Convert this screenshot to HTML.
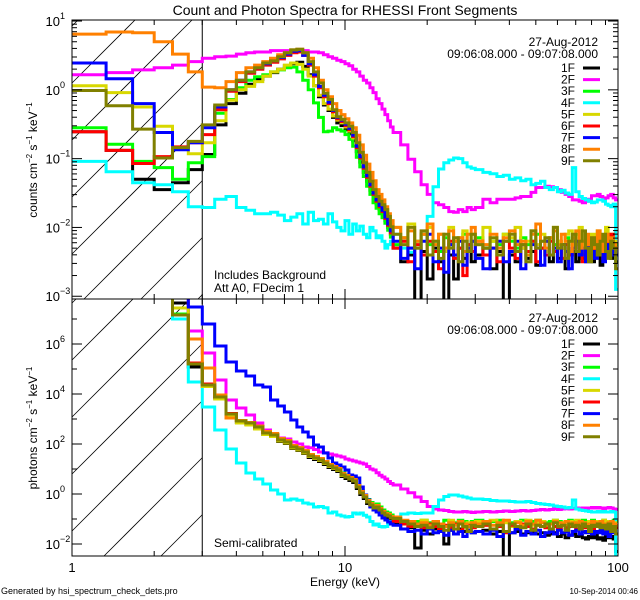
<!DOCTYPE html>
<html><head><meta charset="utf-8">
<style>
html,body{margin:0;padding:0;background:#fff;width:640px;height:600px;overflow:hidden;}
svg{display:block;font-family:"Liberation Sans",sans-serif;overflow:hidden;}
</style></head>
<body>
<svg id="chart" width="640" height="600" viewBox="0 0 640 600" xmlns="http://www.w3.org/2000/svg">
<rect x="0" y="0" width="640" height="600" fill="#fff"/>
<text x="345" y="15" font-size="14" text-anchor="middle">Count and Photon Spectra for RHESSI Front Segments</text>
<text x="345" y="586" font-size="12" text-anchor="middle">Energy (keV)</text>
<text x="1" y="594" font-size="9">Generated by hsi_spectrum_check_dets.pro</text>
<text x="638" y="594" font-size="8" text-anchor="end">10-Sep-2014 00:46</text>
<text transform="translate(37,160) rotate(-90)" font-size="12" text-anchor="middle">counts cm<tspan dy="-5" font-size="8">−2</tspan><tspan dy="5"> s</tspan><tspan dy="-5" font-size="8">−1</tspan><tspan dy="5"> keV</tspan><tspan dy="-5" font-size="8">−1</tspan></text>
<text transform="translate(37,428) rotate(-90)" font-size="12" text-anchor="middle">photons cm<tspan dy="-5" font-size="8">−2</tspan><tspan dy="5"> s</tspan><tspan dy="-5" font-size="8">−1</tspan><tspan dy="5"> keV</tspan><tspan dy="-5" font-size="8">−1</tspan></text>
<text x="214" y="279" font-size="12">Includes Background</text>
<text x="214" y="292" font-size="12">Att A0, FDecim 1</text>
<text x="214" y="547" font-size="12">Semi-calibrated</text>
</svg>
<script>
const seriesNames = ["1F","2F","3F","4F","5F","6F","7F","8F","9F"];
const seriesColors = ["#000000","#ff00ff","#00ff00","#00ffff","#d8d800","#ff0000","#0000ff","#ff8000","#808000"];
const xTickLabels = ["1","10","100"];
const topYTickExps = [-3,-2,-1,0,1];
const botYTickExps = [-2,0,2,4,6];
const legendDate = "27-Aug-2012";
const legendTime = "09:06:08.000 - 09:07:08.000";

// log10 values, 92 energy bins (1/3 keV to 15 keV, 1 keV to 30 keV, 2 keV to 100 keV)
const top1F = [-0.61,-0.88,-1.3,-1.45,-1.35,-1.16,-0.94,-0.51,-0.2,-0.05,0.08,0.15,0.2,0.25,0.3,0.35,0.38,0.4,0.34,0.22,0.06,-0.1,-0.22,-0.3,-0.4,-0.48,-0.52,-0.58,-0.64,-0.74,-0.9,-1.05,-1.2,-1.33,-1.46,-1.58,-1.66,-1.74,-1.8,-1.9,-2.0,-2.1,
 -2.3,-2.5,-2.4,-3.1,-2.35,-2.75,-2.3,-2.5,-3.1,-2.4,-2.75,-2.3,-2.45,-2.3,-2.5,-2.4,-2.3,-2.6,-2.35,-3.1,-2.4,-2.5,-2.3,-2.45,-2.35,-2.55,-2.3,-2.4,-2.5,-2.35,-2.45,-2.3,-2.6,-2.4,-2.35,-2.5,-2.3,-2.45,-2.4,-2.35,-2.5,-2.3,-2.4,-2.55,-2.35,-2.4,-2.3,-2.45,-2.35,-2.5];
const top2F = [0.22,0.25,0.29,0.32,0.36,0.41,0.46,0.48,0.49,0.52,0.54,0.55,0.55,0.57,0.57,0.57,0.57,0.57,0.57,0.55,0.55,0.54,0.51,0.48,0.46,0.43,0.41,0.38,0.35,0.3,0.26,0.2,0.14,0.1,0.03,-0.04,-0.13,-0.2,-0.28,-0.36,-0.45,-0.54,
 -0.62,-0.8,-1.01,-1.19,-1.38,-1.52,-1.64,-1.67,-1.71,-1.77,-1.78,-1.74,-1.77,-1.71,-1.74,-1.71,-1.59,-1.64,-1.59,-1.59,-1.59,-1.57,-1.55,-1.55,-1.49,-1.42,-1.42,-1.4,-1.41,-1.42,-1.45,-1.49,-1.52,-1.55,-1.6,-1.6,-1.62,-1.64,-1.62,-1.59,-1.54,-1.54,-1.52,-1.55,-1.59,-1.57,-1.54,-1.52,-1.57,-1.6];
const top3F = [-0.55,-0.79,-1.04,-1.13,-1.3,-1.06,-0.97,-0.34,-0.14,0.03,0.14,0.19,0.22,0.26,0.29,0.32,0.33,0.26,0.14,0.0,-0.19,-0.4,-0.61,-0.6,-0.55,-0.58,-0.6,-0.65,-0.72,-0.82,-0.98,-1.12,-1.26,-1.4,-1.52,-1.64,-1.72,-1.8,-1.86,-1.94,-2.04,-2.14,
 -2.25,-2.15,-2.3,-2.2,-2.1,-2.25,-2.2,-2.35,-2.15,-2.25,-2.2,-2.3,-2.1,-2.25,-2.2,-2.15,-2.3,-2.2,-2.25,-2.1,-2.2,-2.3,-2.15,-2.25,-2.2,-2.1,-2.3,-2.2,-2.15,-2.25,-2.2,-2.3,-2.15,-2.2,-2.25,-2.1,-2.2,-2.3,-2.2,-2.15,-2.25,-2.2,-2.1,-2.3,-2.2,-2.25,-2.15,-2.2,-2.3,-2.25];
const top4F = [-1.04,-1.19,-1.35,-1.38,-1.48,-1.7,-1.71,-1.59,-1.55,-1.71,-1.75,-1.8,-1.8,-1.78,-1.82,-1.9,-1.85,-1.8,-1.95,-1.78,-1.9,-1.88,-1.95,-1.8,-1.92,-2.0,-2.05,-1.9,-2.1,-1.95,-2.05,-1.98,-2.1,-2.15,-2.0,-2.05,-2.15,-2.12,-2.2,-2.3,-2.25,-2.2,
 -2.1,-2.3,-2.36,-2.3,-2.1,-1.84,-1.41,-1.15,-1.06,-1.02,-0.99,-1.0,-1.06,-1.12,-1.14,-1.16,-1.2,-1.22,-1.26,-1.24,-1.3,-1.28,-1.32,-1.3,-1.38,-1.36,-1.33,-1.42,-1.45,-1.42,-1.48,-1.46,-1.5,-1.52,-1.13,-1.48,-1.55,-1.58,-1.6,-1.62,-1.64,-1.63,-1.6,-1.6,-1.62,-1.66,-1.68,-1.7,-1.66,-2.9];
const top5F = [0.06,-0.04,-0.25,-0.53,-0.84,-0.93,-0.77,-0.45,-0.15,0.0,0.05,0.12,0.2,0.26,0.3,0.36,0.39,0.37,0.3,0.2,0.06,-0.08,-0.2,-0.28,-0.38,-0.44,-0.48,-0.54,-0.6,-0.7,-0.84,-0.98,-1.12,-1.24,-1.36,-1.48,-1.56,-1.62,-1.68,-1.76,-1.86,-1.96,
 -2.0,-2.2,-1.95,-2.3,-2.1,-2.0,-2.25,-2.1,-2.35,-2.0,-2.2,-2.15,-2.05,-2.3,-2.1,-2.25,-2.0,-2.2,-2.4,-2.1,-2.15,-2.0,-2.3,-2.2,-2.05,-2.25,-2.1,-2.35,-2.15,-2.0,-2.2,-2.3,-2.1,-2.05,-2.25,-2.2,-2.0,-2.35,-2.15,-2.2,-2.1,-2.3,-2.05,-2.2,-2.15,-2.0,-2.25,-2.1,-2.2,-2.3];
const top6F = [-0.61,-0.88,-1.07,-0.97,-0.83,-0.77,-0.65,-0.29,-0.02,0.12,0.24,0.3,0.36,0.4,0.45,0.5,0.54,0.55,0.5,0.36,0.2,0.03,-0.1,-0.2,-0.32,-0.42,-0.46,-0.52,-0.58,-0.68,-0.84,-0.99,-1.14,-1.27,-1.4,-1.52,-1.62,-1.7,-1.77,-1.87,-1.97,-2.08,
 -2.3,-2.2,-2.5,-2.25,-2.4,-2.2,-2.35,-2.6,-2.3,-2.2,-2.45,-2.3,-2.7,-2.25,-2.35,-2.2,-2.4,-2.3,-2.5,-2.2,-2.3,-2.45,-2.25,-2.35,-2.2,-2.5,-2.3,-2.4,-2.2,-2.35,-2.3,-2.45,-2.25,-2.4,-2.3,-2.2,-2.35,-2.5,-2.25,-2.3,-2.4,-2.2,-2.35,-2.3,-2.45,-2.2,-2.3,-2.1,-2.35,-2.4];
const top7F = [0.39,0.16,-0.2,-0.62,-0.87,-0.77,-0.55,-0.25,0.0,0.14,0.26,0.32,0.38,0.42,0.47,0.52,0.56,0.57,0.5,0.38,0.22,0.05,-0.08,-0.18,-0.3,-0.4,-0.44,-0.5,-0.56,-0.66,-0.82,-0.97,-1.12,-1.25,-1.38,-1.5,-1.6,-1.68,-1.75,-1.85,-1.95,-2.05,
 -2.2,-2.45,-2.3,-2.6,-2.2,-2.1,-2.5,-2.3,-2.65,-2.25,-2.4,-2.2,-2.55,-2.3,-2.2,-2.45,-2.6,-2.3,-2.2,-2.5,-2.35,-2.2,-2.6,-2.4,-2.25,-2.3,-2.55,-2.2,-2.4,-2.3,-2.5,-2.25,-2.35,-2.6,-2.3,-2.2,-2.4,-2.3,-2.5,-2.25,-2.35,-2.45,-2.2,-2.3,-2.5,-2.35,-2.25,-2.4,-2.3,-2.4];
const top8F = [0.81,0.84,0.83,0.70,0.52,0.26,0.04,0.03,0.12,0.25,0.32,0.36,0.41,0.46,0.51,0.54,0.58,0.59,0.54,0.46,0.32,0.14,0.0,-0.1,-0.2,-0.3,-0.36,-0.42,-0.48,-0.55,-0.66,-0.8,-0.95,-1.08,-1.2,-1.32,-1.45,-1.52,-1.6,-1.7,-1.8,-1.9,
 -2.0,-2.15,-2.05,-2.2,-2.1,-1.95,-2.25,-2.1,-2.3,-2.05,-2.2,-2.15,-2.35,-2.1,-2.0,-2.2,-2.25,-2.1,-2.3,-2.15,-2.05,-2.25,-2.2,-2.4,-2.1,-1.95,-2.2,-2.3,-2.15,-2.05,-2.25,-2.1,-2.2,-2.35,-2.15,-2.05,-2.3,-2.2,-2.1,-2.25,-2.15,-2.3,-2.05,-2.2,-2.35,-2.1,-2.2,-2.15,-2.25,-2.3];
const top9F = [-0.01,-0.23,-0.57,-0.99,-0.84,-0.75,-0.51,-0.22,0.0,0.14,0.26,0.32,0.39,0.42,0.48,0.54,0.58,0.59,0.54,0.41,0.26,0.10,-0.05,-0.14,-0.29,-0.39,-0.43,-0.48,-0.53,-0.62,-0.77,-0.91,-1.06,-1.2,-1.33,-1.45,-1.55,-1.62,-1.67,-1.74,-1.84,-1.99,
 -2.1,-2.25,-2.0,-2.3,-2.05,-2.4,-2.2,-2.45,-2.1,-2.3,-2.15,-2.5,-2.2,-2.35,-2.1,-2.25,-2.3,-2.15,-2.4,-2.2,-2.1,-2.35,-2.25,-2.5,-2.05,-2.3,-2.2,-2.15,-2.4,-2.0,-2.3,-2.25,-2.45,-2.2,-2.1,-2.35,-2.2,-2.05,-2.3,-2.5,-2.15,-2.25,-2.4,-2.2,-2.1,-2.35,-2.45,-2.2,-2.3,-2.6];

const bot1F = [9,9,9,9,7.64,5.08,4.3,3.84,3.14,2.86,2.78,2.62,2.38,2.3,2.1,2.02,1.82,1.74,1.62,1.46,1.38,1.3,1.18,1.06,0.98,0.9,0.7,0.62,0.54,0.46,0.22,-0.02,-0.18,-0.38,-0.5,-0.62,-0.58,-0.7,-0.82,-0.9,-0.94,-1.02,
 -1.2,-1.4,-1.35,-2.16,-1.45,-1.6,-1.4,-1.5,-2.0,-1.45,-1.6,-1.4,-1.5,-1.45,-1.55,-1.5,-1.45,-1.6,-1.5,-2.6,-1.55,-1.5,-1.6,-1.55,-1.5,-1.6,-1.55,-1.65,-1.6,-1.55,-1.7,-1.6,-1.75,-1.65,-1.6,-1.7,-1.65,-1.75,-1.8,-1.7,-1.75,-1.65,-1.8,-1.75,-1.85,-1.7,-1.75,-1.7,-1.8,-2.3];
const bot2F = [9,9,9,9,8.5,6.52,5.64,4.56,3.76,3.44,3.16,2.84,2.56,2.36,2.24,2.2,2.08,2.0,1.88,1.85,1.78,1.68,1.65,1.6,1.56,1.52,1.48,1.4,1.36,1.32,1.28,1.24,1.2,1.1,1.0,0.96,0.85,0.75,0.68,0.6,0.5,0.42,
 0.36,0.2,0.05,-0.12,-0.3,-0.5,-0.6,-0.64,-0.66,-0.7,-0.72,-0.72,-0.7,-0.72,-0.74,-0.72,-0.7,-0.72,-0.7,-0.68,-0.7,-0.68,-0.66,-0.68,-0.66,-0.64,-0.62,-0.64,-0.62,-0.6,-0.62,-0.6,-0.58,-0.6,-0.58,-0.56,-0.58,-0.56,-0.58,-0.56,-0.54,-0.56,-0.54,-0.56,-0.58,-0.56,-0.54,-0.56,-0.6,-0.62];
const bot3F = [9,9,9,9,7.2,5.22,4.38,3.9,3.22,2.94,2.86,2.7,2.46,2.38,2.18,2.1,1.9,1.82,1.7,1.54,1.46,1.38,1.28,1.18,1.1,1.02,0.84,0.76,0.68,0.6,0.36,0.12,-0.04,-0.22,-0.34,-0.46,-0.4,-0.52,-0.64,-0.72,-0.76,-0.84,
 -1.05,-1.1,-1.15,-1.1,-1.05,-1.15,-1.1,-1.2,-1.05,-1.1,-1.15,-1.05,-1.1,-1.2,-1.1,-1.05,-1.15,-1.1,-1.05,-1.1,-1.15,-1.1,-1.05,-1.15,-1.1,-1.05,-1.1,-1.15,-1.1,-1.05,-1.1,-1.15,-1.1,-1.05,-1.1,-1.15,-1.1,-1.05,-1.1,-1.15,-1.05,-1.1,-1.15,-1.1,-1.05,-1.1,-1.15,-1.1,-1.05,-1.1];
const bot4F = [9,9,9,9,7.0,4.48,3.48,2.56,1.8,1.24,0.84,0.6,0.4,0.16,0.0,-0.24,-0.2,-0.25,-0.36,-0.4,-0.52,-0.5,-0.55,-0.76,-0.72,-0.84,-0.88,-0.92,-0.9,-0.76,-0.8,-0.76,-0.85,-0.92,-1.1,-1.24,-1.2,-1.3,-1.32,-1.3,-1.12,-1.1,
 -0.95,-0.8,-0.76,-0.78,-0.76,-0.76,-0.5,-0.24,-0.1,-0.04,-0.04,-0.08,-0.12,-0.16,-0.2,-0.2,-0.22,-0.26,-0.28,-0.28,-0.3,-0.32,-0.32,-0.3,-0.34,-0.38,-0.4,-0.42,-0.44,-0.48,-0.5,-0.52,-0.56,-0.54,-0.24,-0.6,-0.64,-0.66,-0.68,-0.7,-0.72,-0.72,-0.7,-0.72,-0.7,-0.72,-0.72,-0.7,-0.72,-2.5];
const bot5F = [9,9,9,9,7.44,5.22,4.3,3.8,3.1,2.84,2.76,2.6,2.38,2.3,2.12,2.04,1.84,1.76,1.64,1.5,1.42,1.34,1.22,1.1,1.02,0.94,0.74,0.68,0.62,0.54,0.3,0.08,-0.08,-0.26,-0.38,-0.5,-0.46,-0.58,-0.7,-0.78,-0.82,-0.9,
 -1.0,-1.15,-1.1,-1.2,-1.05,-1.25,-1.1,-1.2,-1.3,-1.05,-1.2,-1.1,-1.35,-1.15,-1.2,-1.1,-1.25,-1.05,-1.2,-1.15,-1.3,-1.1,-1.2,-1.05,-1.25,-1.15,-1.1,-1.3,-1.2,-1.05,-1.2,-1.15,-1.25,-1.1,-1.2,-1.05,-1.3,-1.15,-1.2,-1.1,-1.25,-1.1,-1.2,-1.15,-1.05,-1.2,-1.1,-1.25,-1.15,-1.3];
const bot6F = [9,9,9,9,7.16,5.24,4.4,3.9,3.22,2.94,2.86,2.7,2.46,2.38,2.18,2.1,1.9,1.82,1.7,1.54,1.46,1.38,1.26,1.14,1.06,0.98,0.78,0.7,0.62,0.54,0.3,0.06,-0.1,-0.3,-0.42,-0.54,-0.5,-0.62,-0.74,-0.82,-0.86,-0.94,
 -1.1,-1.2,-1.3,-1.25,-1.35,-1.2,-1.3,-1.4,-1.25,-1.35,-1.2,-1.45,-1.3,-1.25,-1.35,-1.3,-1.25,-1.4,-1.3,-1.55,-1.25,-1.35,-1.2,-1.3,-1.4,-1.25,-1.3,-1.35,-1.2,-1.3,-1.4,-1.25,-1.35,-1.3,-1.25,-1.4,-1.3,-1.35,-1.25,-1.3,-1.4,-1.3,-1.25,-1.35,-1.3,-1.2,-1.4,-1.3,-1.25,-1.35];
const bot7F = [9,9,9,9,8.5,7.48,6.8,5.92,5.28,4.92,4.72,4.36,4.28,3.76,3.52,3.28,2.96,2.68,2.48,2.28,1.96,1.88,1.64,1.44,1.24,1.16,1.08,0.96,0.76,0.72,0.64,0.28,-0.04,-0.24,-0.52,-0.64,-0.72,-0.84,-0.96,-1.04,-1.12,-1.2,
 -1.25,-1.4,-1.5,-1.45,-1.6,-1.4,-1.55,-1.5,-1.65,-1.45,-1.6,-1.5,-1.7,-1.45,-1.55,-1.5,-1.6,-1.45,-1.7,-1.5,-1.55,-1.4,-1.65,-1.5,-1.6,-1.45,-1.7,-1.55,-1.5,-1.6,-1.45,-1.55,-1.5,-1.65,-1.5,-1.45,-1.6,-1.5,-1.55,-1.45,-1.6,-1.5,-1.55,-1.45,-1.6,-1.5,-1.7,-1.55,-1.5,-1.6];
const bot8F = [9,9,9,9,7.16,6.2,5.04,3.96,3.04,2.94,2.86,2.72,2.5,2.42,2.22,2.14,1.94,1.86,1.74,1.58,1.5,1.42,1.3,1.18,1.1,1.02,0.82,0.74,0.66,0.58,0.34,0.1,-0.06,-0.26,-0.38,-0.5,-0.46,-0.58,-0.7,-0.78,-0.82,-0.9,
 -0.92,-1.05,-1.1,-1.2,-1.15,-1.25,-1.1,-1.2,-1.3,-1.15,-1.25,-1.1,-1.2,-1.3,-1.15,-1.2,-1.1,-1.25,-1.15,-1.05,-1.2,-1.15,-1.25,-1.1,-1.2,-1.05,-1.15,-1.25,-1.2,-1.1,-1.15,-1.2,-1.1,-1.25,-1.15,-1.2,-1.1,-1.15,-1.2,-1.25,-1.1,-1.2,-1.15,-1.1,-1.25,-1.2,-1.15,-1.1,-1.2,-1.25];
const bot9F = [9,9,9,9,7.16,5.2,4.36,3.88,3.2,2.92,2.84,2.68,2.44,2.36,2.16,2.08,1.88,1.8,1.68,1.52,1.44,1.36,1.24,1.12,1.04,0.96,0.76,0.68,0.6,0.52,0.28,0.04,-0.12,-0.32,-0.44,-0.56,-0.52,-0.64,-0.76,-0.84,-0.88,-0.96,
 -0.98,-1.1,-1.2,-1.3,-1.25,-1.35,-1.2,-1.3,-1.45,-1.25,-1.4,-1.2,-1.3,-1.5,-1.25,-1.3,-1.2,-1.4,-1.25,-1.5,-1.2,-1.3,-1.35,-1.2,-1.45,-1.25,-1.3,-1.2,-1.4,-1.15,-1.3,-1.25,-1.45,-1.2,-1.3,-1.25,-1.4,-1.2,-1.3,-1.5,-1.25,-1.3,-1.2,-1.35,-1.25,-1.4,-1.2,-1.5,-1.3,-1.6];

const topSeries = [top1F,top2F,top3F,top4F,top5F,top6F,top7F,top8F,top9F];
const botSeries = [bot1F,bot2F,bot3F,bot4F,bot5F,bot6F,bot7F,bot8F,bot9F];

// energy bin edges
const edges = [];
for (let i = 0; i <= 42; i++) edges.push(1 + i / 3);
for (let e = 16; e <= 30; e++) edges.push(e);
for (let e = 32; e <= 100; e += 2) edges.push(e);

const NS = "http://www.w3.org/2000/svg";
const svg = document.getElementById("chart");
const X0 = 72, X1 = 618;
const xScale = e => X0 + (X1 - X0) * Math.log10(e) / 2;
const panels = [
  {name:"top", y0:20, y1:299, lTop:1.015, lBot:-3.04, data:topSeries, ticks:topYTickExps, hatchStart:26, labelEvery:1},
  {name:"bottom", y0:299, y1:556, lTop:7.8, lBot:-2.48, data:botSeries, ticks:botYTickExps, hatchStart:303, labelEvery:2}
];
function mk(tag, attrs, parent) {
  const el = document.createElementNS(NS, tag);
  for (const k in attrs) el.setAttribute(k, attrs[k]);
  (parent || svg).appendChild(el);
  return el;
}

panels.forEach((p, pi) => {
  const yScale = l => p.y0 + (p.lTop - l) * (p.y1 - p.y0) / (p.lTop - p.lBot);
  const clipId = "clip-" + p.name;
  const defs = mk("defs", {});
  const cp = mk("clipPath", {id: clipId}, defs);
  mk("rect", {x: X0, y: p.y0, width: X1 - X0, height: p.y1 - p.y0}, cp);

  // hatch region below 3 keV (lines computed inside region)
  const X3 = xScale(3);
  const hatch = mk("g", {stroke: "#000", "stroke-width": "0.8"});
  
  
  for (let k = -6; k < 10; k++) {
    const yl = p.hatchStart + k * 57;
    const xa = Math.max(X0, X0 + (yl - p.y1));
    const xb = Math.min(X3, X0 + (yl - p.y0));
    if (xb <= xa) continue;
    mk("line", {x1: xa, y1: yl - (xa - X0), x2: xb, y2: yl - (xb - X0)}, hatch);
  }
  const vline = mk("line", {x1: X3, y1: p.y0, x2: X3, y2: p.y1, stroke: "#000", "stroke-width": "1"});
  
  

  const g = mk("g", {"clip-path": "url(#" + clipId + ")", fill: "none", "stroke-width": "3", "stroke-linejoin": "miter"});
  
  
  const clampY = y => Math.max(p.y0 - 4, Math.min(p.y1 + 4, y));
  p.data.forEach((vals, si) => {
    let d = "M" + xScale(edges[0]).toFixed(1) + "," + clampY(yScale(vals[0])).toFixed(1);
    for (let i = 0; i < vals.length; i++) {
      d += "H" + xScale(edges[i + 1]).toFixed(1);
      if (i + 1 < vals.length) d += "V" + clampY(yScale(vals[i + 1])).toFixed(1);
    }
    const path = mk("path", {d: d, stroke: seriesColors[si]}, g);
    
    
  });

  const frame = mk("rect", {x: X0, y: p.y0, width: X1 - X0, height: p.y1 - p.y0, fill: "none", stroke: "#000", "stroke-width": "1"});
  
  

  const xt = mk("g", {stroke: "#000", "stroke-width": "1"});
  
  
  for (let dec = 0; dec < 2; dec++) {
    for (let m = 1; m <= 9; m++) {
      const x = xScale(m * Math.pow(10, dec));
      const len = m === 1 ? 10 : 5;
      mk("line", {x1: x, y1: p.y1, x2: x, y2: p.y1 - len}, xt);
      mk("line", {x1: x, y1: p.y0, x2: x, y2: p.y0 + len}, xt);
    }
  }
  const yt = mk("g", {stroke: "#000", "stroke-width": "1"});
  
  
  for (let e = Math.floor(p.lBot); e <= Math.ceil(p.lTop); e++) {
    if (p.labelEvery === 1) {
      for (let m = 1; m <= 9; m++) {
        const l = e + Math.log10(m);
        if (l < p.lBot || l > p.lTop) continue;
        const y = yScale(l);
        const len = m === 1 ? 10 : 5;
        mk("line", {x1: X0, y1: y, x2: X0 + len, y2: y}, yt);
        mk("line", {x1: X1, y1: y, x2: X1 - len, y2: y}, yt);
      }
    } else {
      if (e < p.lBot || e > p.lTop) continue;
      const y = yScale(e);
      const len = e % 2 === 0 ? 10 : 5;
      mk("line", {x1: X0, y1: y, x2: X0 + len, y2: y}, yt);
      mk("line", {x1: X1, y1: y, x2: X1 - len, y2: y}, yt);
    }
  }
  p.ticks.forEach(e => {
    const y = yScale(e);
    const t = mk("text", {x: X0 - 12, y: y + 5, "font-size": "13", "text-anchor": "end"});
    
    
    t.textContent = "10";
    const sup = mk("text", {x: X0 - 12, y: y - 2, "font-size": "9", "text-anchor": "start"});
    
    
    sup.textContent = e < 0 ? "\u2212" + (-e) : String(e);
  });

  const lgTop = p.name === "top" ? 46 : 322;
  const d1 = mk("text", {x: 598, y: lgTop, "font-size": "12", "text-anchor": "end"});
  
  
  d1.textContent = legendDate;
  const d2 = mk("text", {x: 598, y: lgTop + 12, "font-size": "12", "text-anchor": "end"});
  
  
  d2.textContent = legendTime;
  seriesNames.forEach((n, si) => {
    const ly = lgTop + 22 + si * 11.6;
    const lt = mk("text", {x: 575, y: ly + 4, "font-size": "12", "text-anchor": "end"});
    
    
    lt.textContent = n;
    const ll = mk("line", {x1: 583, y1: ly, x2: 600, y2: ly, stroke: seriesColors[si], "stroke-width": "3"});
    
    
  });
});

xTickLabels.forEach((lab, i) => {
  const t = mk("text", {x: xScale(Math.pow(10, i)), y: 572, "font-size": "13", "text-anchor": "middle"});
  
  
  t.textContent = lab;
});
</script>
</body></html>
